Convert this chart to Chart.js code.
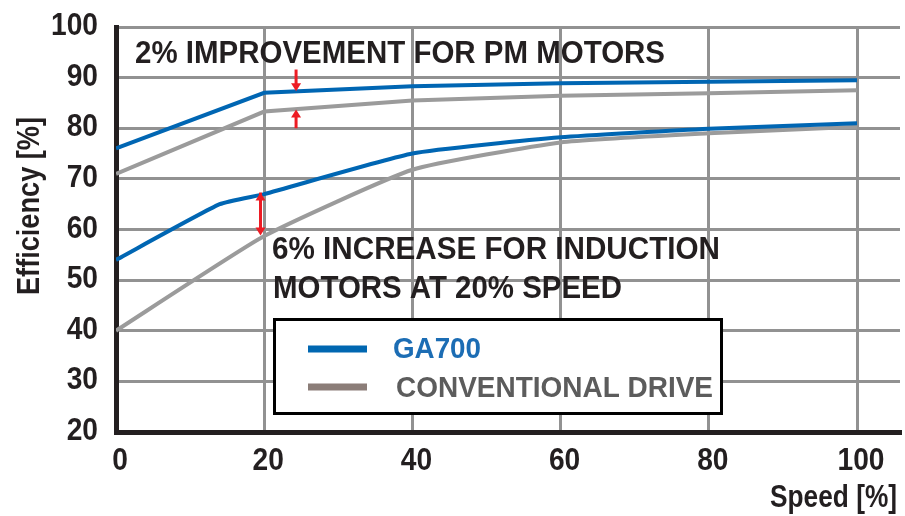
<!DOCTYPE html>
<html>
<head>
<meta charset="utf-8">
<title>Efficiency vs Speed</title>
<script src="https://cdn.jsdelivr.net/npm/chart.js@4.4.1/dist/chart.umd.min.js"></script>
<style>
    html, body { margin: 0; padding: 0; background: #fff; }
    #wrap { width: 905px; height: 516px; }
</style>
</head>
<body>
<div id="wrap"><canvas id="effChart" width="905" height="516"></canvas></div>
<script>
const speedTicks = [0, 20, 40, 60, 80, 100];
const effTicks = [20, 30, 40, 50, 60, 70, 80, 90, 100];

// PM motors
const pmSpeed = [0, 20, 40, 60, 80, 100];
const ga700Pm = [76, 87, 88.3, 88.9, 89.2, 89.5];
const convPm = [71, 83.3, 85.5, 86.4, 86.9, 87.5];

// induction motors
const ga700ImSpeed = [0, 14, 20, 40, 60, 80, 100];
const ga700Im = [54, 65, 67, 75, 78.2, 79.9, 81];
const convImSpeed = [0, 20, 40, 60, 80, 100];
const convIm = [40, 58.7, 71.8, 77.2, 79, 80.3];

const seriesNames = ["GA700", "CONVENTIONAL DRIVE"];

// red arrows: speed, from, to, double headed
const arrowSpeed = [24.3, 24.3, 19.5];
const arrowFrom = [91.6, 80, 67.3];
const arrowTo = [87.3, 83.7, 58.8];
const arrowBoth = [false, false, true];

const notes = ["2% IMPROVEMENT FOR PM MOTORS", "6% INCREASE FOR INDUCTION", "MOTORS AT 20% SPEED"];

const BLUE = "#0066b3";
const GRAY = "#9b9b9b";
const INK = "#231f20";
const RED = "#ed1c24";
const legendColors = ["#0067b1", "#8b7d78"];
const legendTextColors = ["#1c6db4", "#5c5c5c"];

function toPoints(xs, ys) {
    return xs.map((x, i) => ({ x: x, y: ys[i] }));
}

// draw text squeezed/stretched to a given width
function fitText(ctx, text, x, y, width, font, color) {
    ctx.save();
    ctx.font = font;
    ctx.fillStyle = color;
    ctx.textAlign = "left";
    ctx.textBaseline = "alphabetic";
    const w = ctx.measureText(text).width;
    ctx.translate(x, y);
    ctx.scale(width / w, 1);
    ctx.fillText(text, 0, 0);
    ctx.restore();
}

// condensed tick label
function tickText(ctx, text, x, y, align) {
    ctx.save();
    ctx.font = "bold 32px 'Liberation Sans', Arial, sans-serif";
    ctx.fillStyle = INK;
    ctx.textAlign = align;
    ctx.textBaseline = "alphabetic";
    ctx.translate(x, y);
    ctx.scale(0.88, 1);
    ctx.fillText(text, 0, 0);
    ctx.restore();
}

function drawHead(ctx, x, y, dir) {
    ctx.beginPath();
    ctx.moveTo(x, y);
    ctx.lineTo(x - 5, y - dir * 8);
    ctx.lineTo(x + 5, y - dir * 8);
    ctx.closePath();
    ctx.fill();
}

const overlay = {
    id: "overlay",
    afterDatasetsDraw(chart) {
        const ctx = chart.ctx;
        const xs = chart.scales.x;
        const ys = chart.scales.y;

        // arrows
        ctx.save();
        ctx.strokeStyle = RED;
        ctx.fillStyle = RED;
        ctx.lineWidth = 3;
        arrowSpeed.forEach((s, i) => {
            const px = xs.getPixelForValue(s);
            const y1 = ys.getPixelForValue(arrowFrom[i]);
            const y2 = ys.getPixelForValue(arrowTo[i]);
            const dir = y2 > y1 ? 1 : -1;
            ctx.beginPath();
            ctx.moveTo(px, y1);
            ctx.lineTo(px, y2 - dir * 4);
            ctx.stroke();
            drawHead(ctx, px, y2, dir);
            if (arrowBoth[i]) drawHead(ctx, px, y1, -dir);
        });
        ctx.restore();

        // notes
        const noteFont = "bold 32px 'Liberation Sans', Arial, sans-serif";
        fitText(ctx, notes[0], 135, 63, 530, noteFont, INK);
        fitText(ctx, notes[1], 272, 259, 448, noteFont, INK);
        fitText(ctx, notes[2], 273, 298, 349, noteFont, INK);

        // legend box
        ctx.save();
        ctx.fillStyle = "#fff";
        ctx.fillRect(274, 319, 448, 95);
        ctx.strokeStyle = "#000";
        ctx.lineWidth = 3;
        ctx.strokeRect(274.5, 319.5, 447, 94);
        ctx.lineWidth = 7;
        [349, 387].forEach((y, i) => {
            ctx.strokeStyle = legendColors[i];
            ctx.beginPath();
            ctx.moveTo(308, y);
            ctx.lineTo(367, y);
            ctx.stroke();
        });
        ctx.restore();
        const legFont = "bold 29px 'Liberation Sans', Arial, sans-serif";
        fitText(ctx, seriesNames[0], 393, 358, 88, legFont, legendTextColors[0]);
        fitText(ctx, seriesNames[1], 396, 397, 317, legFont, legendTextColors[1]);
    },
    afterDraw(chart) {
        const ctx = chart.ctx;
        const xs = chart.scales.x;
        const ys = chart.scales.y;

        // tick labels placed through the scales
        effTicks.forEach(v => tickText(ctx, String(v), 98, ys.getPixelForValue(v) + 8, "right"));
        speedTicks.forEach(v => tickText(ctx, String(v), xs.getPixelForValue(v) + 4, 470, "center"));

        const titleFont = "bold 32px 'Liberation Sans', Arial, sans-serif";
        // y title, rotated
        ctx.save();
        ctx.translate(39, 295);
        ctx.rotate(-Math.PI / 2);
        fitText(ctx, "Efficiency [%]", 0, 0, 178, titleFont, INK);
        ctx.restore();
        fitText(ctx, "Speed [%]", 770, 507, 127, titleFont, INK);
    }
};

new Chart(document.getElementById("effChart"), {
    type: "line",
    data: {
        datasets: [
            { label: "GA700 PM", data: toPoints(pmSpeed, ga700Pm), borderColor: BLUE },
            { label: "Conventional PM", data: toPoints(pmSpeed, convPm), borderColor: GRAY },
            { label: "GA700 IM", data: toPoints(ga700ImSpeed, ga700Im), borderColor: BLUE, tension: 0.15 },
            { label: "Conventional IM", data: toPoints(convImSpeed, convIm), borderColor: GRAY, tension: 0.15 }
        ]
    },
    options: {
        responsive: false,
        animation: false,
        devicePixelRatio: 1,
        layout: { padding: { top: 27, right: 5, left: 0, bottom: 0 } },
        elements: {
            point: { radius: 0 },
            line: { borderWidth: 4, fill: false }
        },
        plugins: {
            legend: { display: false },
            tooltip: { enabled: false }
        },
        scales: {
            x: {
                type: "linear",
                min: 0,
                max: 105.8,
                afterBuildTicks: scale => { scale.ticks = speedTicks.map(v => ({ value: v })); },
                afterFit: scale => { scale.height = 84; },
                grid: { color: "#929292", lineWidth: 3, drawTicks: false },
                border: { color: INK, width: 5 },
                ticks: { display: false }
            },
            y: {
                min: 20,
                max: 100,
                afterBuildTicks: scale => { scale.ticks = effTicks.map(v => ({ value: v })); },
                afterFit: scale => { scale.width = 116; },
                grid: { color: "#929292", lineWidth: 3, drawTicks: false },
                border: { color: INK, width: 5 },
                ticks: { display: false }
            }
        }
    },
    plugins: [overlay]
});
</script>
</body>
</html>
